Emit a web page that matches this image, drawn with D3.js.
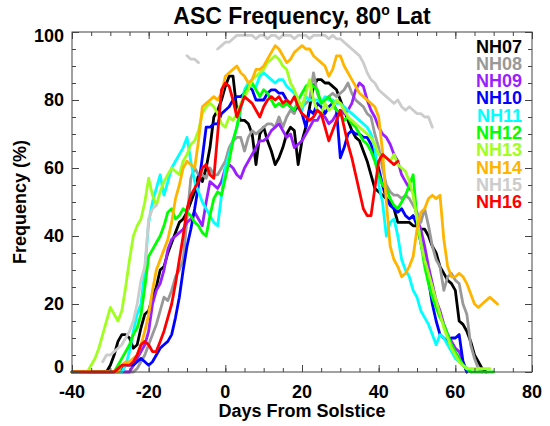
<!DOCTYPE html>
<html><head><meta charset="utf-8">
<script src="https://cdn.jsdelivr.net/npm/d3@7"></script>
<style>
body{margin:0;background:#fff}
svg{display:block}
text{font-family:"Liberation Sans",Arial,Helvetica,sans-serif;font-weight:bold}
</style>
</head><body>
<svg id="chart" width="550" height="426"></svg>
<script>
// ---- data ----
const seriesNames = ["NH07","NH08","NH09","NH10","NH11","NH12","NH13","NH14","NH15","NH16"];
const seriesColors = ["#000000","#999999","#9a1fff","#0000ff","#00ffff","#00ff00","#a0ff20","#ffb400","#cccccc","#ff0000"];
const xTickLabels = [-40,-20,0,20,40,60,80];
const yTickLabels = [0,20,40,60,80,100];

// daily values, first value is at the start day
const nh07Start = -40;
const nh07 = [0,0,0,0,0,0,0,0,0,0,
 2,5,9,11,11,10,7,8,13,17,
 18,22,25,30,31,35,38,41,44,45,
 47,50,53,58,56,60,66,75,77,80,
 84,87,87,77,74,74,73,70,61,70,
 72,68,65,61,63,66,70,72,71,61,
 68,72,78,84,86,86,85,85,84,83,
 80,77,74,71,69,68,65,62,58,54,
 53,52,51,50,48,44,44,44,44,43,
 43,42,42,40,37,35,31,29,27,26,
 24,15,14,12,9,5,3,1,0];
const nh08Start = -40;
const nh08 = [0,0,0,0,0,0,0,0,0,0,0,0,0,0,0,0,0,
 1,3,5,8,11,14,18,22,21,24,28,30,33,45,57,60,58,58,57,60,58,58,60,
 62,66,68,69,69,65,69,71,70,71,
 72,73,73,72,75,72,75,77,76,79,
 78,79,80,88,82,79,80,81,82,81,
 82,83,85,82,80,79,78,76,75,70,
 66,60,55,53,52,52,51,52,51,49,
 47,44,48,43,37,33,31,24,28,29,
 27,26,20,17,8,4,1,0];
const nh09Start = -40;
const nh09 = [0,0,0,0,0,0,0,0,0,0,0,0,0,0,0,0,
 2,4,6,8,12,20,24,26,30,36,39,40,41,42,44,45,47,45,43,50,56,55,54,56,
 60,61,60,58,57,60,62,64,66,68,
 68,69,71,72,73,71,69,70,66,67,
 68,70,72,74,74,76,75,73,74,76,
 77,76,77,79,83,85,84,80,77,75,
 72,70,69,67,64,62,58,56,54,53,
 45,42,37,31,26,21,18,14,11,9,
 7,6,3,0];
const nh10Start = -40;
const nh10 = [0,0,0,0,0,0,0,0,0,0,0,0,0,
 1,2,2,2,3,4,3,2,3,5,7,8,9,11,16,22,30,37,42,48,55,63,72,72,73,73,76,
 77,78,80,81,81,82,84,83,80,80,
 80,82,83,83,82,82,80,78,77,78,
 76,72,77,76,79,78,76,78,79,77,
 63,66,70,71,70,70,69,69,67,63,
 60,55,51,49,48,47,48,46,45,46,
 43,38,33,27,20,15,11,10,9,10,
 10,11,3,0];
const nh11Start = -40;
const nh11 = [0,0,0,0,0,0,0,0,0,0,0,0,0,0,
 2,6,12,17,20,30,44,50,54,58,52,56,60,62,64,66,69,62,56,53,50,48,46,44,43,52,
 60,64,68,72,77,83,85,84,84,87,
 88,87,86,85,86,86,84,83,82,80,
 77,81,80,80,80,79,81,80,80,79,
 79,78,77,76,75,74,73,72,70,66,
 55,50,40,44,45,40,33,30,28,24,
 22,18,16,14,11,8,11,10,8,6,
 4,3,2,1,0];
const nh12Start = -40;
const nh12 = [0,0,0,0,0,0,0,0,0,0,0,0,
 2,4,6,8,11,13,17,25,34,36,38,40,43,47,48,45,46,48,47,46,44,43,41,40,46,51,53,52,
 57,62,68,72,78,82,84,85,83,81,
 83,82,80,78,79,78,79,78,77,80,
 82,84,85,84,83,79,80,81,79,77,
 76,74,75,73,72,70,68,67,65,62,
 58,55,54,51,49,48,50,52,55,58,
 45,38,31,26,22,19,16,14,11,8,
 6,4,2,1,0,0,0,0,0,0,0];
const nh13Start = -40;
const nh13 = [0,0,0,0,0,
 2,4,7,11,15,19,17,15,18,25,33,40,43,45,50,57,52,49,53,56,58,60,59,58,62,64,67,68,71,76,78,79,78,76,73,
 72,75,74,76,79,81,83,86,87,88,
 89,91,92,93,92,90,89,85,83,80,
 78,82,86,80,77,76,79,77,78,80,
 79,77,75,74,73,72,71,70,69,67,
 64,63,63,62,64,61,60,59,56,52,
 45,38,33,29,25,21,17,13,10,7,
 5,3,2,1,1,1,1,1,1,1];
const nh14Start = -40;
const nh14 = [0,0,0,0,0,0,0,0,0,0,0,0,0,
 2,3,3,4,5,8,12,17,24,30,33,36,39,44,51,55,60,62,61,60,68,78,79,80,81,80,82,
 87,88,89,90,88,87,85,86,89,89,
 90,92,94,96,95,93,91,92,94,95,
 96,95,95,93,92,91,90,87,89,93,
 93,90,88,86,84,82,81,80,79,78,
 75,65,50,37,33,31,28,29,31,34,
 42,47,48,51,52,51,52,39,31,28,
 28,29,28,26,23,20,19,20,21,22,
 21,20];
const nh15Start = -32;
const nh15 = [3,5,5,6,7,8,10,12,15,20,27,31,45,48,49,
 null,null,null,null,null,null,null,
 93,92,92,91,
 null,null,null,null,
 95,96,
 97,97,98,99,99,99,99,99,98,99,
 99,98,99,99,98,99,99,99,98,99,
 99,99,98,99,99,99,99,98,99,98,
 98,97,96,95,94,93,91,88,86,85,
 83,82,81,80,79,80,78,77,78,77,
 76,76,75,75,72];
const nh16Start = -40;
const nh16 = [0,0,0,0,0,0,0,0,0,0,0,0,
 1,2,2,2,3,5,8,9,8,6,6,9,12,16,20,26,33,40,48,52,54,56,60,61,58,57,70,83,
 85,84,80,75,78,81,80,79,77,75,
 78,80,81,80,81,79,80,79,81,78,
 76,75,74,75,77,76,72,68,71,74,
 77,72,67,63,58,53,48,46,46,54,
 62,64,63,62,61,62];

const seriesStarts = [nh07Start,nh08Start,nh09Start,nh10Start,nh11Start,nh12Start,nh13Start,nh14Start,nh15Start,nh16Start];
const seriesValues = [nh07,nh08,nh09,nh10,nh11,nh12,nh13,nh14,nh15,nh16];

// ---- layout ----
const svg = d3.select("#chart");
const L = 72, R = 532, T = 32, B = 372;
const x = d3.scaleLinear().domain([-40, 80]).range([L, R]);
const y = d3.scaleLinear().domain([0, 100]).range([B, T]);
const axisColor = "#444";

const series = seriesNames.map((n, i) => ({
  name: n, color: seriesColors[i],
  pts: seriesValues[i].map((v, j) => ({d: seriesStarts[i] + j, v}))
}));

const line = d3.line()
  .defined(p => p.v !== null)
  .x(p => x(p.d)).y(p => y(p.v));

const gLines = svg.append("g");
series.forEach(s => {
  gLines.append("path")
    .attr("d", line(s.pts))
    .attr("fill", "none")
    .attr("stroke", s.color)
    .attr("stroke-width", 2.8)
    .attr("stroke-linejoin", "round")
    .attr("stroke-linecap", "round");
});

// ---- axes (inward ticks on all four sides) ----
function styleAxis(g){
  g.select(".domain").remove();
  g.selectAll(".tick line").attr("stroke", axisColor).attr("stroke-width", 1);
}
const xMinor = d3.range(-40, 81, 5);
const yMinor = d3.range(0, 101, 5);
const major = 7, minor = 4;

// bottom
const gb = svg.append("g").attr("transform", `translate(0,${B})`);
gb.call(d3.axisTop(x).tickValues(xMinor).tickSize(minor).tickFormat("")).call(styleAxis);
gb.append("g").call(d3.axisTop(x).tickValues(xTickLabels).tickSize(major).tickFormat("")).call(styleAxis);
// top
const gt = svg.append("g").attr("transform", `translate(0,${T})`);
gt.call(d3.axisBottom(x).tickValues(xMinor).tickSize(minor).tickFormat("")).call(styleAxis);
gt.append("g").call(d3.axisBottom(x).tickValues(xTickLabels).tickSize(major).tickFormat("")).call(styleAxis);
// left
const gl = svg.append("g").attr("transform", `translate(${L},0)`);
gl.call(d3.axisRight(y).tickValues(yMinor).tickSize(minor).tickFormat("")).call(styleAxis);
gl.append("g").call(d3.axisRight(y).tickValues(yTickLabels).tickSize(major).tickFormat("")).call(styleAxis);
// right
const gr = svg.append("g").attr("transform", `translate(${R},0)`);
gr.call(d3.axisLeft(y).tickValues(yMinor).tickSize(minor).tickFormat("")).call(styleAxis);
gr.append("g").call(d3.axisLeft(y).tickValues(yTickLabels).tickSize(major).tickFormat("")).call(styleAxis);

svg.append("rect").attr("x", L).attr("y", T).attr("width", R - L).attr("height", B - T)
  .attr("fill", "none").attr("stroke", axisColor).attr("stroke-width", 1);

// tick labels
svg.append("g").selectAll("text").data(xTickLabels).join("text")
  .attr("x", d => x(d)).attr("y", 398)
  .attr("text-anchor", "middle").attr("font-size", 18).attr("fill", "#000")
  .text(d => d);
svg.append("g").selectAll("text").data(yTickLabels).join("text")
  .attr("x", 64).attr("y", d => y(d) + 6 + (d === 100 ? 4 : 0) + (d === 0 ? -5 : 0))
  .attr("text-anchor", "end").attr("font-size", 18).attr("fill", "#000")
  .text(d => d);

// axis titles
svg.append("text").attr("x", (L + R) / 2).attr("y", 417)
  .attr("text-anchor", "middle").attr("font-size", 18).text("Days From Solstice");
svg.append("text").attr("transform", `translate(26,${(T + B) / 2}) rotate(-90)`)
  .attr("text-anchor", "middle").attr("font-size", 18).text("Frequency (%)");

// title
const title = svg.append("text").attr("x", (L + R) / 2).attr("y", 24)
  .attr("text-anchor", "middle").attr("font-size", 23);
title.append("tspan").text("ASC Frequency, 80");
title.append("tspan").attr("font-size", 14).attr("dy", -9).text("o");
title.append("tspan").attr("dy", 9).text(" Lat");

// legend
svg.append("g").selectAll("text").data(series).join("text")
  .attr("x", 522).attr("y", (d, i) => 52.7 + i * 17.26)
  .attr("text-anchor", "end").attr("font-size", 18)
  .attr("fill", d => d.color).text(d => d.name);
</script>
</body></html>
